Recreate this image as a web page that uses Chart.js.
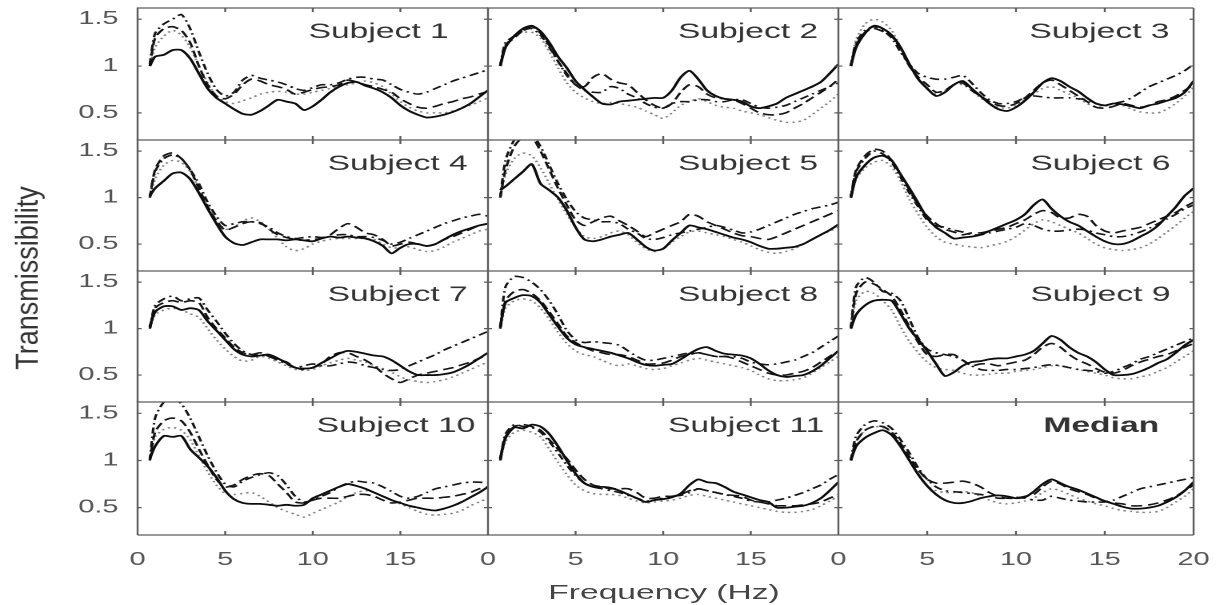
<!DOCTYPE html>
<html>
<head>
<meta charset="utf-8">
<script src="https://cdn.jsdelivr.net/npm/chart.js@4.4.1/dist/chart.umd.min.js"></script>
<style>
  html, body { margin: 0; padding: 0; background: #fff; }
  body { width: 1220px; height: 605px; position: relative; overflow: hidden; font-family: "Liberation Sans", Arial, sans-serif; }
  /* the source figure is stretched sideways, so the whole grid is drawn narrow and scaled */
  #grid { position: absolute; left: 0; top: 0; width: 763px; height: 605px; transform: scaleX(1.6); transform-origin: 0 0; }
  #grid canvas { position: absolute; }
  #xTitle { position: absolute; left: 315px; top: 579px; width: 200px; line-height: 26px; text-align: center; font-size: 21px; color: #444; }
  #yTitle { position: absolute; left: -83px; top: 263px; width: 220px; height: 30px; line-height: 30px; text-align: center; font-size: 27px; color: #333; transform: rotate(-90deg) scaleY(1.15); }
</style>
</head>
<body>
<div id="grid"><div id="xTitle">Frequency (Hz)</div></div>
<div id="yTitle">Transmissibility</div>
<script>
const freq = [0.7, 1, 1.5, 2, 2.5, 3, 3.5, 4, 4.5, 5, 5.5, 6, 6.5, 7, 7.5, 8, 8.5, 9, 9.5, 10,
  10.5, 11, 11.5, 12, 12.5, 13, 13.5, 14, 14.5, 15, 15.5, 16, 16.5, 17, 17.5, 18, 18.5, 19, 19.5, 20]

const panelTitles = ["Subject 1", "Subject 2", "Subject 3", "Subject 4", "Subject 5", "Subject 6",
  "Subject 7", "Subject 8", "Subject 9", "Subject 10", "Subject 11", "Median"]

const yTickValues = [0.5, 1, 1.5]
const xTickValues = [0, 5, 10, 15, 20]

// one row per panel, values at each freq
const solidLine = [
  [1.0,1.1,1.12,1.17,1.17,1.08,0.92,0.76,0.66,0.6,0.54,0.49,0.48,0.52,0.58,0.64,0.62,0.6,0.53,0.57,0.64,0.72,0.78,0.82,0.83,0.79,0.76,0.72,0.66,0.58,0.52,0.48,0.45,0.46,0.48,0.51,0.55,0.6,0.67,0.74],
  [1.0,1.2,1.32,1.4,1.43,1.37,1.25,1.1,0.98,0.84,0.75,0.67,0.6,0.59,0.62,0.63,0.64,0.65,0.66,0.66,0.74,0.88,0.95,0.86,0.74,0.68,0.65,0.64,0.62,0.57,0.55,0.57,0.6,0.66,0.7,0.74,0.78,0.83,0.92,1.02],
  [1.0,1.2,1.35,1.43,1.4,1.33,1.2,1.02,0.86,0.76,0.68,0.72,0.8,0.84,0.76,0.68,0.6,0.54,0.52,0.56,0.63,0.72,0.82,0.87,0.84,0.78,0.73,0.66,0.6,0.58,0.6,0.59,0.57,0.55,0.58,0.6,0.63,0.66,0.72,0.84],
  [1.02,1.1,1.18,1.26,1.27,1.2,1.05,0.88,0.72,0.58,0.51,0.49,0.52,0.55,0.55,0.55,0.54,0.55,0.54,0.53,0.56,0.58,0.57,0.58,0.57,0.56,0.53,0.48,0.4,0.46,0.5,0.5,0.48,0.5,0.55,0.6,0.64,0.67,0.7,0.72],
  [1.08,1.12,1.2,1.28,1.36,1.15,1.08,1.0,0.86,0.68,0.55,0.53,0.55,0.58,0.6,0.62,0.55,0.47,0.43,0.45,0.54,0.62,0.7,0.68,0.66,0.63,0.6,0.57,0.55,0.52,0.48,0.45,0.45,0.46,0.47,0.5,0.55,0.6,0.65,0.71],
  [1.0,1.22,1.35,1.43,1.45,1.4,1.25,1.1,0.94,0.78,0.68,0.62,0.56,0.57,0.58,0.6,0.64,0.68,0.72,0.76,0.82,0.92,0.98,0.88,0.8,0.74,0.7,0.64,0.58,0.53,0.5,0.5,0.53,0.58,0.63,0.7,0.8,0.9,1.02,1.1],
  [1.02,1.18,1.24,1.24,1.2,1.22,1.2,1.08,0.98,0.88,0.78,0.72,0.7,0.71,0.72,0.68,0.63,0.58,0.57,0.58,0.63,0.68,0.73,0.76,0.75,0.73,0.71,0.7,0.66,0.6,0.54,0.5,0.5,0.5,0.51,0.53,0.57,0.62,0.68,0.74],
  [1.02,1.28,1.33,1.36,1.35,1.28,1.15,1.02,0.9,0.83,0.8,0.78,0.76,0.74,0.71,0.68,0.64,0.61,0.6,0.61,0.62,0.67,0.73,0.78,0.8,0.76,0.73,0.72,0.71,0.68,0.62,0.55,0.5,0.48,0.49,0.5,0.54,0.6,0.68,0.76],
  [1.0,1.15,1.25,1.3,1.31,1.3,1.16,1.0,0.88,0.76,0.62,0.49,0.53,0.6,0.64,0.65,0.67,0.68,0.68,0.7,0.72,0.76,0.84,0.92,0.88,0.8,0.74,0.7,0.64,0.56,0.5,0.5,0.51,0.54,0.58,0.63,0.67,0.74,0.82,0.88],
  [1.02,1.15,1.26,1.25,1.26,1.12,1.03,0.94,0.82,0.68,0.59,0.55,0.54,0.54,0.53,0.52,0.53,0.52,0.53,0.6,0.64,0.68,0.72,0.75,0.73,0.7,0.66,0.62,0.58,0.55,0.52,0.5,0.48,0.47,0.49,0.52,0.56,0.61,0.66,0.72],
  [1.02,1.24,1.35,1.34,1.38,1.36,1.28,1.15,1.0,0.86,0.76,0.72,0.72,0.71,0.68,0.64,0.6,0.56,0.58,0.59,0.61,0.65,0.74,0.8,0.77,0.76,0.72,0.67,0.64,0.61,0.58,0.56,0.5,0.5,0.51,0.52,0.55,0.6,0.68,0.77],
  [1.0,1.15,1.24,1.29,1.32,1.27,1.15,1.0,0.85,0.73,0.64,0.58,0.55,0.55,0.57,0.6,0.62,0.63,0.62,0.6,0.61,0.67,0.75,0.8,0.76,0.72,0.69,0.65,0.61,0.57,0.54,0.51,0.49,0.49,0.5,0.52,0.56,0.61,0.68,0.77]
]

const dashedLine = [
  [1.0,1.3,1.4,1.42,1.38,1.25,1.0,0.8,0.68,0.65,0.7,0.8,0.86,0.84,0.8,0.78,0.75,0.7,0.72,0.75,0.77,0.78,0.8,0.85,0.83,0.8,0.78,0.75,0.72,0.65,0.6,0.56,0.55,0.57,0.6,0.62,0.65,0.67,0.7,0.73],
  [1.0,1.22,1.3,1.38,1.42,1.35,1.22,1.05,0.92,0.8,0.78,0.88,0.92,0.86,0.82,0.8,0.72,0.64,0.58,0.55,0.6,0.72,0.8,0.78,0.7,0.66,0.65,0.64,0.6,0.55,0.5,0.48,0.48,0.5,0.55,0.6,0.66,0.72,0.78,0.86],
  [1.0,1.22,1.36,1.4,1.37,1.32,1.18,1.0,0.88,0.8,0.72,0.74,0.8,0.82,0.74,0.68,0.62,0.58,0.57,0.6,0.66,0.74,0.82,0.85,0.8,0.74,0.68,0.62,0.56,0.55,0.57,0.6,0.58,0.56,0.58,0.62,0.64,0.68,0.74,0.8],
  [1.0,1.3,1.45,1.48,1.42,1.3,1.1,0.9,0.75,0.65,0.68,0.72,0.74,0.73,0.66,0.6,0.57,0.55,0.54,0.55,0.56,0.6,0.67,0.72,0.68,0.62,0.6,0.55,0.48,0.5,0.52,0.5,0.48,0.5,0.55,0.58,0.62,0.66,0.7,0.72],
  [1.0,1.3,1.55,1.65,1.65,1.5,1.3,1.1,0.92,0.76,0.7,0.74,0.78,0.8,0.75,0.7,0.64,0.58,0.62,0.66,0.7,0.74,0.82,0.8,0.74,0.7,0.66,0.62,0.59,0.58,0.56,0.55,0.58,0.62,0.66,0.7,0.74,0.78,0.82,0.86],
  [1.0,1.3,1.45,1.52,1.5,1.4,1.25,1.08,0.92,0.8,0.72,0.66,0.63,0.6,0.62,0.62,0.64,0.66,0.68,0.72,0.76,0.82,0.86,0.84,0.78,0.78,0.82,0.8,0.7,0.64,0.62,0.64,0.66,0.68,0.72,0.76,0.8,0.84,0.9,0.95],
  [1.0,1.22,1.28,1.3,1.28,1.3,1.28,1.12,1.0,0.9,0.8,0.74,0.72,0.74,0.7,0.67,0.64,0.58,0.56,0.58,0.62,0.7,0.74,0.74,0.7,0.66,0.6,0.52,0.46,0.42,0.46,0.5,0.52,0.54,0.56,0.58,0.61,0.64,0.68,0.72],
  [1.0,1.3,1.4,1.42,1.38,1.3,1.18,1.05,0.92,0.85,0.8,0.76,0.74,0.72,0.72,0.7,0.66,0.62,0.62,0.63,0.66,0.7,0.72,0.74,0.72,0.7,0.7,0.68,0.64,0.6,0.56,0.52,0.5,0.5,0.52,0.54,0.58,0.64,0.7,0.76],
  [1.0,1.38,1.5,1.48,1.42,1.35,1.2,1.02,0.85,0.72,0.7,0.72,0.72,0.66,0.6,0.62,0.62,0.6,0.62,0.64,0.66,0.72,0.8,0.84,0.8,0.72,0.66,0.62,0.57,0.53,0.52,0.55,0.6,0.64,0.67,0.7,0.72,0.76,0.8,0.84],
  [1.0,1.3,1.42,1.45,1.42,1.3,1.12,0.95,0.8,0.72,0.74,0.8,0.84,0.86,0.84,0.75,0.66,0.56,0.55,0.58,0.6,0.6,0.6,0.62,0.64,0.64,0.62,0.58,0.55,0.56,0.58,0.6,0.6,0.6,0.61,0.62,0.64,0.66,0.7,0.72],
  [1.0,1.25,1.36,1.38,1.36,1.32,1.22,1.12,1.02,0.9,0.8,0.74,0.72,0.7,0.7,0.7,0.66,0.6,0.6,0.62,0.62,0.64,0.68,0.7,0.68,0.66,0.64,0.63,0.62,0.58,0.56,0.54,0.52,0.52,0.52,0.53,0.54,0.56,0.6,0.64],
  [1.0,1.2,1.32,1.36,1.36,1.3,1.18,1.04,0.9,0.8,0.76,0.76,0.77,0.78,0.76,0.72,0.66,0.62,0.6,0.6,0.62,0.64,0.72,0.78,0.75,0.7,0.67,0.64,0.6,0.57,0.55,0.54,0.52,0.52,0.53,0.55,0.58,0.62,0.68,0.74]
]

const dashDotLine = [
  [1.02,1.35,1.45,1.5,1.55,1.4,1.15,0.92,0.75,0.68,0.72,0.85,0.9,0.87,0.85,0.83,0.8,0.76,0.74,0.77,0.8,0.8,0.82,0.86,0.88,0.88,0.86,0.85,0.8,0.75,0.72,0.7,0.72,0.76,0.8,0.84,0.87,0.9,0.93,0.96],
  [1.0,1.25,1.32,1.38,1.4,1.33,1.2,1.05,0.9,0.8,0.74,0.72,0.72,0.78,0.76,0.7,0.66,0.6,0.56,0.55,0.6,0.62,0.62,0.64,0.64,0.62,0.62,0.64,0.64,0.6,0.56,0.55,0.56,0.58,0.62,0.66,0.7,0.74,0.78,0.82],
  [1.0,1.25,1.38,1.42,1.38,1.3,1.15,1.02,0.92,0.88,0.86,0.86,0.88,0.9,0.82,0.72,0.64,0.6,0.6,0.62,0.66,0.68,0.67,0.66,0.66,0.66,0.65,0.64,0.6,0.58,0.6,0.62,0.66,0.72,0.78,0.82,0.86,0.9,0.95,1.02],
  [1.0,1.28,1.42,1.46,1.42,1.3,1.15,0.95,0.8,0.7,0.72,0.74,0.74,0.72,0.68,0.62,0.58,0.56,0.57,0.58,0.57,0.58,0.6,0.6,0.58,0.58,0.57,0.54,0.5,0.52,0.56,0.6,0.64,0.68,0.72,0.75,0.78,0.8,0.82,0.8],
  [1.0,1.4,1.62,1.7,1.68,1.55,1.35,1.15,0.98,0.85,0.78,0.76,0.74,0.74,0.72,0.66,0.62,0.56,0.55,0.57,0.6,0.62,0.64,0.66,0.68,0.7,0.68,0.65,0.62,0.63,0.66,0.7,0.74,0.78,0.82,0.85,0.88,0.9,0.92,0.95],
  [1.0,1.28,1.42,1.5,1.47,1.38,1.22,1.05,0.9,0.76,0.7,0.68,0.65,0.63,0.6,0.6,0.62,0.64,0.66,0.68,0.72,0.7,0.66,0.64,0.64,0.65,0.66,0.65,0.62,0.6,0.58,0.58,0.6,0.63,0.67,0.72,0.77,0.82,0.88,0.92],
  [1.0,1.25,1.32,1.35,1.3,1.32,1.33,1.2,1.08,0.95,0.84,0.76,0.72,0.72,0.7,0.66,0.62,0.58,0.6,0.62,0.6,0.6,0.62,0.64,0.63,0.6,0.58,0.56,0.55,0.56,0.6,0.64,0.68,0.72,0.77,0.81,0.85,0.89,0.93,0.97],
  [1.0,1.45,1.56,1.55,1.5,1.42,1.3,1.15,0.98,0.88,0.85,0.86,0.85,0.84,0.82,0.76,0.7,0.66,0.66,0.68,0.7,0.72,0.74,0.74,0.72,0.7,0.7,0.7,0.68,0.64,0.62,0.61,0.62,0.64,0.66,0.7,0.74,0.8,0.86,0.92],
  [1.0,1.45,1.55,1.5,1.4,1.38,1.3,1.1,0.9,0.78,0.74,0.72,0.7,0.66,0.6,0.56,0.55,0.55,0.56,0.56,0.57,0.58,0.6,0.61,0.6,0.58,0.56,0.55,0.54,0.52,0.54,0.58,0.62,0.67,0.7,0.74,0.78,0.82,0.86,0.9],
  [1.0,1.45,1.62,1.66,1.6,1.45,1.25,1.05,0.88,0.75,0.72,0.78,0.82,0.85,0.87,0.84,0.74,0.62,0.56,0.58,0.62,0.66,0.72,0.76,0.78,0.77,0.76,0.72,0.67,0.62,0.6,0.62,0.66,0.7,0.72,0.74,0.76,0.77,0.77,0.76],
  [1.0,1.28,1.38,1.36,1.35,1.3,1.2,1.08,0.95,0.84,0.76,0.72,0.7,0.68,0.66,0.63,0.6,0.57,0.58,0.6,0.62,0.63,0.66,0.7,0.68,0.66,0.64,0.62,0.6,0.57,0.56,0.56,0.58,0.6,0.63,0.66,0.7,0.74,0.8,0.85],
  [1.0,1.26,1.38,1.42,1.4,1.34,1.22,1.08,0.92,0.8,0.72,0.68,0.67,0.66,0.65,0.64,0.62,0.6,0.6,0.61,0.6,0.58,0.58,0.62,0.6,0.58,0.57,0.56,0.56,0.56,0.58,0.62,0.66,0.7,0.72,0.74,0.76,0.78,0.8,0.82]
]

const dottedLine = [
  [1.0,1.2,1.32,1.38,1.33,1.2,1.0,0.82,0.68,0.62,0.6,0.63,0.66,0.7,0.72,0.73,0.72,0.7,0.7,0.72,0.74,0.76,0.78,0.8,0.82,0.84,0.82,0.78,0.7,0.62,0.56,0.52,0.5,0.5,0.5,0.52,0.55,0.58,0.62,0.66],
  [1.0,1.22,1.33,1.36,1.36,1.3,1.15,0.98,0.82,0.72,0.66,0.62,0.6,0.61,0.6,0.58,0.56,0.52,0.48,0.44,0.5,0.58,0.62,0.65,0.62,0.58,0.56,0.55,0.52,0.5,0.48,0.45,0.42,0.4,0.4,0.42,0.48,0.55,0.62,0.7],
  [1.0,1.28,1.45,1.5,1.47,1.38,1.2,1.0,0.86,0.76,0.7,0.74,0.8,0.8,0.74,0.66,0.6,0.56,0.55,0.58,0.64,0.7,0.76,0.78,0.74,0.7,0.66,0.6,0.56,0.57,0.6,0.58,0.54,0.51,0.5,0.5,0.54,0.6,0.68,0.77],
  [1.0,1.2,1.35,1.4,1.38,1.28,1.1,0.92,0.76,0.66,0.68,0.75,0.78,0.74,0.66,0.56,0.47,0.43,0.45,0.5,0.53,0.55,0.56,0.56,0.56,0.56,0.55,0.5,0.46,0.46,0.47,0.44,0.42,0.43,0.47,0.52,0.56,0.6,0.64,0.66],
  [1.0,1.25,1.42,1.48,1.45,1.32,1.15,0.98,0.82,0.68,0.58,0.56,0.58,0.62,0.64,0.6,0.52,0.45,0.42,0.45,0.52,0.58,0.63,0.64,0.62,0.6,0.58,0.55,0.52,0.48,0.44,0.41,0.4,0.42,0.45,0.5,0.55,0.6,0.64,0.68],
  [1.0,1.2,1.32,1.38,1.4,1.33,1.18,0.98,0.82,0.68,0.58,0.52,0.5,0.48,0.47,0.46,0.48,0.5,0.53,0.58,0.65,0.72,0.76,0.74,0.7,0.66,0.62,0.56,0.5,0.46,0.44,0.43,0.44,0.46,0.5,0.56,0.63,0.7,0.78,0.85],
  [1.0,1.15,1.2,1.22,1.2,1.16,1.12,1.0,0.88,0.78,0.7,0.65,0.66,0.7,0.68,0.64,0.6,0.56,0.55,0.56,0.6,0.63,0.66,0.68,0.66,0.64,0.6,0.57,0.53,0.48,0.45,0.43,0.42,0.43,0.45,0.48,0.52,0.56,0.6,0.64],
  [1.0,1.22,1.3,1.32,1.3,1.22,1.1,0.96,0.84,0.76,0.72,0.7,0.66,0.62,0.6,0.62,0.6,0.57,0.56,0.57,0.6,0.63,0.66,0.68,0.66,0.64,0.62,0.6,0.58,0.55,0.5,0.46,0.44,0.44,0.45,0.47,0.52,0.58,0.64,0.7],
  [1.0,1.3,1.4,1.38,1.3,1.2,1.02,0.86,0.74,0.64,0.58,0.56,0.55,0.52,0.5,0.5,0.51,0.52,0.52,0.54,0.55,0.56,0.58,0.6,0.6,0.58,0.56,0.54,0.52,0.5,0.47,0.46,0.46,0.48,0.5,0.54,0.58,0.64,0.7,0.76],
  [1.0,1.25,1.33,1.35,1.32,1.22,1.05,0.88,0.74,0.65,0.64,0.65,0.66,0.62,0.56,0.5,0.46,0.43,0.4,0.44,0.48,0.52,0.56,0.62,0.66,0.68,0.66,0.62,0.58,0.54,0.5,0.46,0.43,0.42,0.43,0.44,0.47,0.52,0.56,0.6],
  [1.0,1.2,1.3,1.32,1.3,1.25,1.12,0.98,0.85,0.74,0.68,0.65,0.64,0.64,0.63,0.6,0.57,0.55,0.56,0.57,0.58,0.6,0.63,0.64,0.62,0.6,0.58,0.56,0.54,0.52,0.5,0.48,0.46,0.45,0.45,0.46,0.48,0.52,0.57,0.62],
  [1.0,1.2,1.32,1.36,1.35,1.3,1.16,1.0,0.85,0.73,0.68,0.66,0.66,0.67,0.66,0.62,0.58,0.55,0.54,0.55,0.57,0.6,0.66,0.7,0.68,0.64,0.6,0.57,0.54,0.52,0.49,0.47,0.46,0.45,0.45,0.46,0.5,0.56,0.62,0.7]
]

// layout, in screen pixels
const SX = 1.6
const M = 50
const colLeft = [137, 487, 837]
const colWidth = [350, 350, 355]
const rowEdge = [8, 140, 271, 402, 535]
const titleOffset = [171, 190, 191, 190, 190, 192, 190, 190, 192, 179, 180, 205]

const FONT = "'Liberation Sans', Arial, sans-serif"
Chart.defaults.font.family = FONT

// panel box (shared edges drawn once), inward ticks and the panel name
const panelFrame = {
  id: "panelFrame",
  afterDatasetsDraw(chart, args, opts) {
    const { ctx, chartArea: a, scales } = chart
    ctx.save()
    ctx.strokeStyle = "#5c5c5c"
    ctx.lineWidth = 1.2
    ctx.beginPath()
    ctx.moveTo(a.left, a.bottom); ctx.lineTo(a.left, a.top); ctx.lineTo(a.right, a.top)
    if (opts.lastCol) { ctx.moveTo(a.right, a.top); ctx.lineTo(a.right, a.bottom) }
    if (opts.lastRow) { ctx.moveTo(a.left, a.bottom); ctx.lineTo(a.right, a.bottom) }
    ;[5, 10, 15].forEach(v => {
      const px = scales.x.getPixelForValue(v)
      ctx.moveTo(px, a.top); ctx.lineTo(px, a.top + 4)
      ctx.moveTo(px, a.bottom); ctx.lineTo(px, a.bottom - 4)
    })
    yTickValues.forEach(v => {
      const py = scales.y.getPixelForValue(v)
      ctx.moveTo(a.left, py); ctx.lineTo(a.left + 2.5, py)
      ctx.moveTo(a.right, py); ctx.lineTo(a.right - 2.5, py)
    })
    ctx.stroke()
    ctx.fillStyle = "#333"
    ctx.font = (opts.bold ? "bold " : "") + "21px " + FONT
    ctx.textBaseline = "middle"
    ctx.fillText(opts.title, a.left + opts.offset, a.top + 24)
    ctx.restore()
  }
}

function makeSet(values, color, dash, width) {
  return {
    data: freq.map((f, i) => ({ x: f, y: values[i] })),
    borderColor: color,
    borderDash: dash,
    borderWidth: width,
    pointRadius: 0,
    tension: 0.25,
    fill: false
  }
}

const grid = document.getElementById("grid")

// panel widths in canvas units, and lefts laid end to end so shared edges coincide
const innerW = colWidth.map(w => Math.round(w / SX))
const innerLeft = [colLeft[0] / SX]
innerLeft.push(innerLeft[0] + innerW[0], innerLeft[0] + innerW[0] + innerW[1])

panelTitles.forEach((title, i) => {
  const row = Math.floor(i / 3)
  const col = i % 3
  const canvas = document.createElement("canvas")
  canvas.width = innerW[col] + 2 * M
  canvas.height = rowEdge[row + 1] - rowEdge[row] + 2 * M
  canvas.style.left = (innerLeft[col] - M) + "px"
  canvas.style.top = (rowEdge[row] - M) + "px"
  grid.appendChild(canvas)

  const xTicks = col === 2 ? xTickValues : xTickValues.slice(0, 4)

  new Chart(canvas, {
    type: "line",
    data: {
      datasets: [
        makeSet(solidLine[i], "#0d0d0d", [], 1.8),
        makeSet(dashedLine[i], "#151515", [7, 3.5], 1.6),
        makeSet(dashDotLine[i], "#151515", [6, 3, 1.5, 3], 1.6),
        makeSet(dottedLine[i], "#858585", [1.5, 2.5], 1.5)
      ]
    },
    plugins: [panelFrame],
    options: {
      responsive: false,
      animation: false,
      devicePixelRatio: 2,
      events: [],
      layout: { padding: { top: M, right: M, left: 0, bottom: 0 } },
      plugins: {
        legend: { display: false },
        tooltip: { enabled: false },
        panelFrame: {
          title,
          offset: titleOffset[i] / SX,
          bold: title === "Median",
          lastCol: col === 2,
          lastRow: row === 3
        }
      },
      scales: {
        x: {
          type: "linear",
          min: 0,
          max: 20,
          afterBuildTicks: ax => { ax.ticks = xTicks.map(v => ({ value: v })) },
          afterFit: ax => { ax.height = M },
          grid: { display: false, drawTicks: false },
          border: { display: false },
          ticks: { display: row === 3, autoSkip: false, maxRotation: 0, padding: 14, color: "#555", font: { size: 18 }, callback: v => String(v) }
        },
        y: {
          type: "linear",
          min: 0.21,
          max: 1.62,
          afterBuildTicks: ax => { ax.ticks = yTickValues.map(v => ({ value: v })) },
          afterFit: ax => { ax.width = M },
          grid: { display: false, drawTicks: false },
          border: { display: false },
          ticks: { display: col === 0, padding: 12, color: "#555", font: { size: 18 }, callback: v => String(v) }
        }
      }
    }
  })
})
</script>
</body>
</html>
